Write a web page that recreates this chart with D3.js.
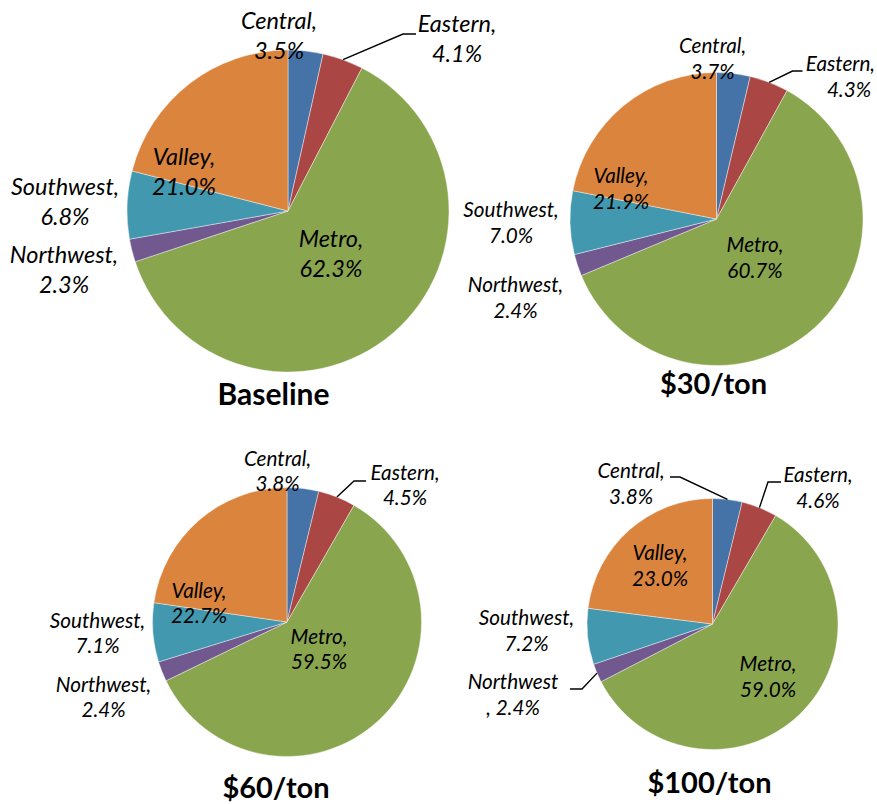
<!DOCTYPE html>
<html>
<head>
<meta charset="utf-8">
<script src="https://cdn.jsdelivr.net/npm/d3@7"></script>
<style>
  body { margin: 0; background: #fff; }
  .label { font-family: Lato, "Liberation Sans", sans-serif; font-style: italic; fill: #000; }
  .title { font-family: Lato, "Liberation Sans", sans-serif; font-weight: bold; fill: #000; }
</style>
</head>
<body>
<svg id="chart"></svg>
<script>
const REGIONS = ["Central", "Eastern", "Metro", "Northwest", "Southwest", "Valley"];
const SCENARIOS = ["Baseline", "$30/ton", "$60/ton", "$100/ton"];
const BASELINE_SHARE = [3.5, 4.1, 62.3, 2.3, 6.8, 21.0];
const TON30_SHARE = [3.7, 4.3, 60.7, 2.4, 7.0, 21.9];
const TON60_SHARE = [3.8, 4.5, 59.5, 2.4, 7.1, 22.7];
const TON100_SHARE = [3.8, 4.6, 59.0, 2.4, 7.2, 23.0];

const COLORS = ["#4572A7", "#AA4643", "#89A54E", "#71588F", "#4198AF", "#DB843D"];

const W = 877, H = 804;

// where each pie sits; label spots are offsets from the pie centre
const layout = [
    { cx: 288, cy: 211, r: 161, font: 23.5, gap: 29.5, title: [-14.5, 194], titleFont: 30,
      labels: { Central: [-9, -182], Eastern: [169, -179], Metro: [43, 36],
                Northwest: [-224, 52], Southwest: [-223, -16], Valley: [-104, -46] },
      leaders: { Eastern: [[115, -177], [128, -177]] } },
    { cx: 716.5, cy: 219, r: 146.5, font: 20.7, gap: 25.5, title: [-3, 175], titleFont: 29,
      labels: { Central: [-4, -166], Eastern: [132.5, -148], Metro: [38.5, 33],
                Northwest: [-201, 73], Southwest: [-205.5, -2], Valley: [-95.5, -36] },
      leaders: { Eastern: [[76, -148], [86, -148]] } },
    { cx: 287, cy: 622, r: 134.5, font: 20.7, gap: 25, title: [-11, 175.7], titleFont: 29,
      labels: { Central: [-9.5, -156], Eastern: [118, -142], Metro: [32, 22],
                Northwest: [-183.5, 70], Southwest: [-189.5, 6], Valley: [-88, -24] },
      leaders: { Eastern: [[67, -141], [79, -141]] } },
    { cx: 712.5, cy: 624, r: 125.5, font: 20.7, gap: 25.5, title: [-3, 168.7], titleFont: 29,
      labels: { Central: [-81.5, -146], Eastern: [105.5, -142], Metro: [55.5, 47],
                Northwest: [-199.5, 65], Southwest: [-186, 1], Valley: [-52.5, -64] },
      leaders: { Central: [[-32.5, -147], [-42.5, -147]],
                 Eastern: [[55.5, -142], [68.5, -142]],
                 Northwest: [[-130.5, 65], [-142.5, 65]] },
      splitComma: ["Northwest"] }
];

const shares = [BASELINE_SHARE, TON30_SHARE, TON60_SHARE, TON100_SHARE];

const color = d3.scaleOrdinal().domain(REGIONS).range(COLORS);

const pie = d3.pie()
    .sort(null)
    .value(d => d.value);

const svg = d3.select("#chart")
    .attr("width", W)
    .attr("height", H)
    .style("display", "block");

svg.append("rect")
    .attr("width", W)
    .attr("height", H)
    .attr("fill", "#fff");

SCENARIOS.forEach(function (name, i)
{
    const L = layout[i];
    const data = REGIONS.map((region, j) => ({ region: region, value: shares[i][j] }));
    const arcs = pie(data);

    const arc = d3.arc().innerRadius(0).outerRadius(L.r);
    const edge = d3.arc().innerRadius(L.r).outerRadius(L.r);

    const g = svg.append("g")
        .attr("transform", "translate(" + L.cx + "," + L.cy + ")");

    g.selectAll("path.slice")
        .data(arcs)
        .enter()
        .append("path")
        .attr("class", "slice")
        .attr("d", arc)
        .attr("fill", d => color(d.data.region))
        .attr("stroke", "#fff")
        .attr("stroke-opacity", 0.6)
        .attr("stroke-width", 0.7);

    // leader lines from the rim to the outside labels
    arcs.forEach(function (d)
    {
        const pts = L.leaders[d.data.region];
        if (!pts) return;
        const start = edge.centroid(d);
        g.append("polyline")
            .attr("points", [start].concat(pts).map(p => p.join(",")).join(" "))
            .attr("fill", "none")
            .attr("stroke", "#000")
            .attr("stroke-width", 1.4);
    });

    arcs.forEach(function (d)
    {
        const pos = L.labels[d.data.region];
        const split = L.splitComma && L.splitComma.includes(d.data.region);
        const lines = split
            ? [d.data.region, ", " + d.data.value.toFixed(1) + "%"]
            : [d.data.region + ",", d.data.value.toFixed(1) + "%"];

        const t = g.append("text")
            .attr("class", "label")
            .attr("text-anchor", "middle")
            .style("font-size", L.font + "px");

        lines.forEach(function (line, k)
        {
            const span = t.append("tspan")
                .attr("x", pos[0])
                .attr("y", pos[1] + k * L.gap)
                .text(line);
            // keep a line inside the page if it would run past the right edge
            const half = span.node().getComputedTextLength() / 2;
            const maxX = W - 2 - L.cx - half;
            if (pos[0] > maxX) span.attr("x", maxX);
        });
    });

    g.append("text")
        .attr("class", "title")
        .attr("text-anchor", "middle")
        .attr("x", L.title[0])
        .attr("y", L.title[1])
        .style("font-size", L.titleFont + "px")
        .text(name);
});
</script>
</body>
</html>
